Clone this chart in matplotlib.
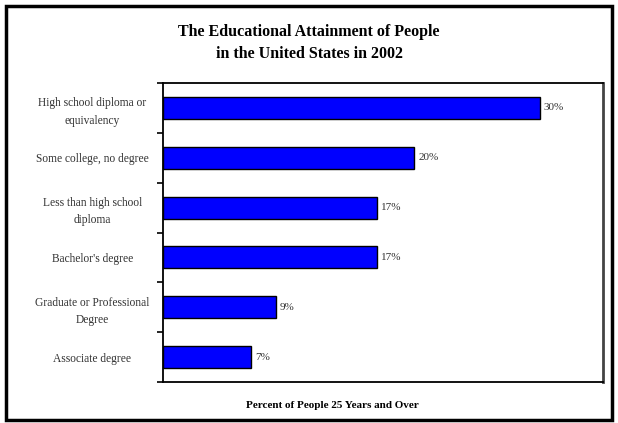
import matplotlib.pyplot as plt
from matplotlib.patches import Rectangle

# data, top to bottom as in the chart
categories = ["High school diploma or\nequivalency",
              "Some college, no degree",
              "Less than high school\ndiploma",
              "Bachelor's degree",
              "Graduate or Professional\nDegree",
              "Associate degree"]
percents = [30, 20, 17, 17, 9, 7]
value_labels = ["30%", "20%", "17%", "17%", "9%", "7%"]

serif = ["Liberation Serif", "DejaVu Serif"]
W, H = 618, 423

fig = plt.figure(figsize=(W / 100, H / 100), dpi=100)
ax = fig.add_axes([163 / W, 1 - 382 / H, (603 - 163) / W, (382 - 83) / H])

ypos = list(range(len(categories)))
ax.barh(ypos, percents, height=0.44, color="#0000ff", edgecolor="black", linewidth=1.0)
for y, v, lab in zip(ypos, percents, value_labels):
    ax.text(v + 0.3, y, lab, va="center", ha="left", fontsize=8,
            family=serif, color="#333333")

ax.set_xlim(0, 35)
ax.set_ylim(len(categories) - 0.5, -0.5)
ax.set_xticks([])
# tick marks sit on category boundaries, labels at bar centres
ax.set_yticks([i + 0.5 for i in range(len(categories) - 1)] + [-0.5, len(categories) - 0.5])
ax.set_yticklabels([])
ax.set_yticks(ypos, minor=True)
ax.set_yticklabels(categories, minor=True, family=serif, fontsize=8.3, color="#333333",
                   ha="center", linespacing=1.6)
ax.tick_params(axis="y", which="minor", length=0, pad=51)
ax.tick_params(axis="y", which="major", length=4, width=1.2, direction="out")
for s in ["left", "bottom", "top"]:
    ax.spines[s].set_color("black")
    ax.spines[s].set_linewidth(1.3)
ax.spines["right"].set_color("#444444")
ax.spines["right"].set_linewidth(2)

fig.text(0.5 * (5 + 613) / W, 1 - 43 / H,
         "The Educational Attainment of People\nin the United States in 2002",
         ha="center", va="center", fontsize=11.5, fontweight="bold",
         family=serif, linespacing=1.5)
fig.text(332 / W, 1 - 405 / H, "Percent of People 25 Years and Over",
         ha="center", va="center", fontsize=8, fontweight="bold", family=serif)

# outer frame
fig.patches.append(Rectangle((6 / W, 1 - 420 / H), (612 - 6) / W, (420 - 6) / H,
                             transform=fig.transFigure, fill=False,
                             edgecolor="black", linewidth=2.5))

fig.savefig("out.png", dpi=100)
